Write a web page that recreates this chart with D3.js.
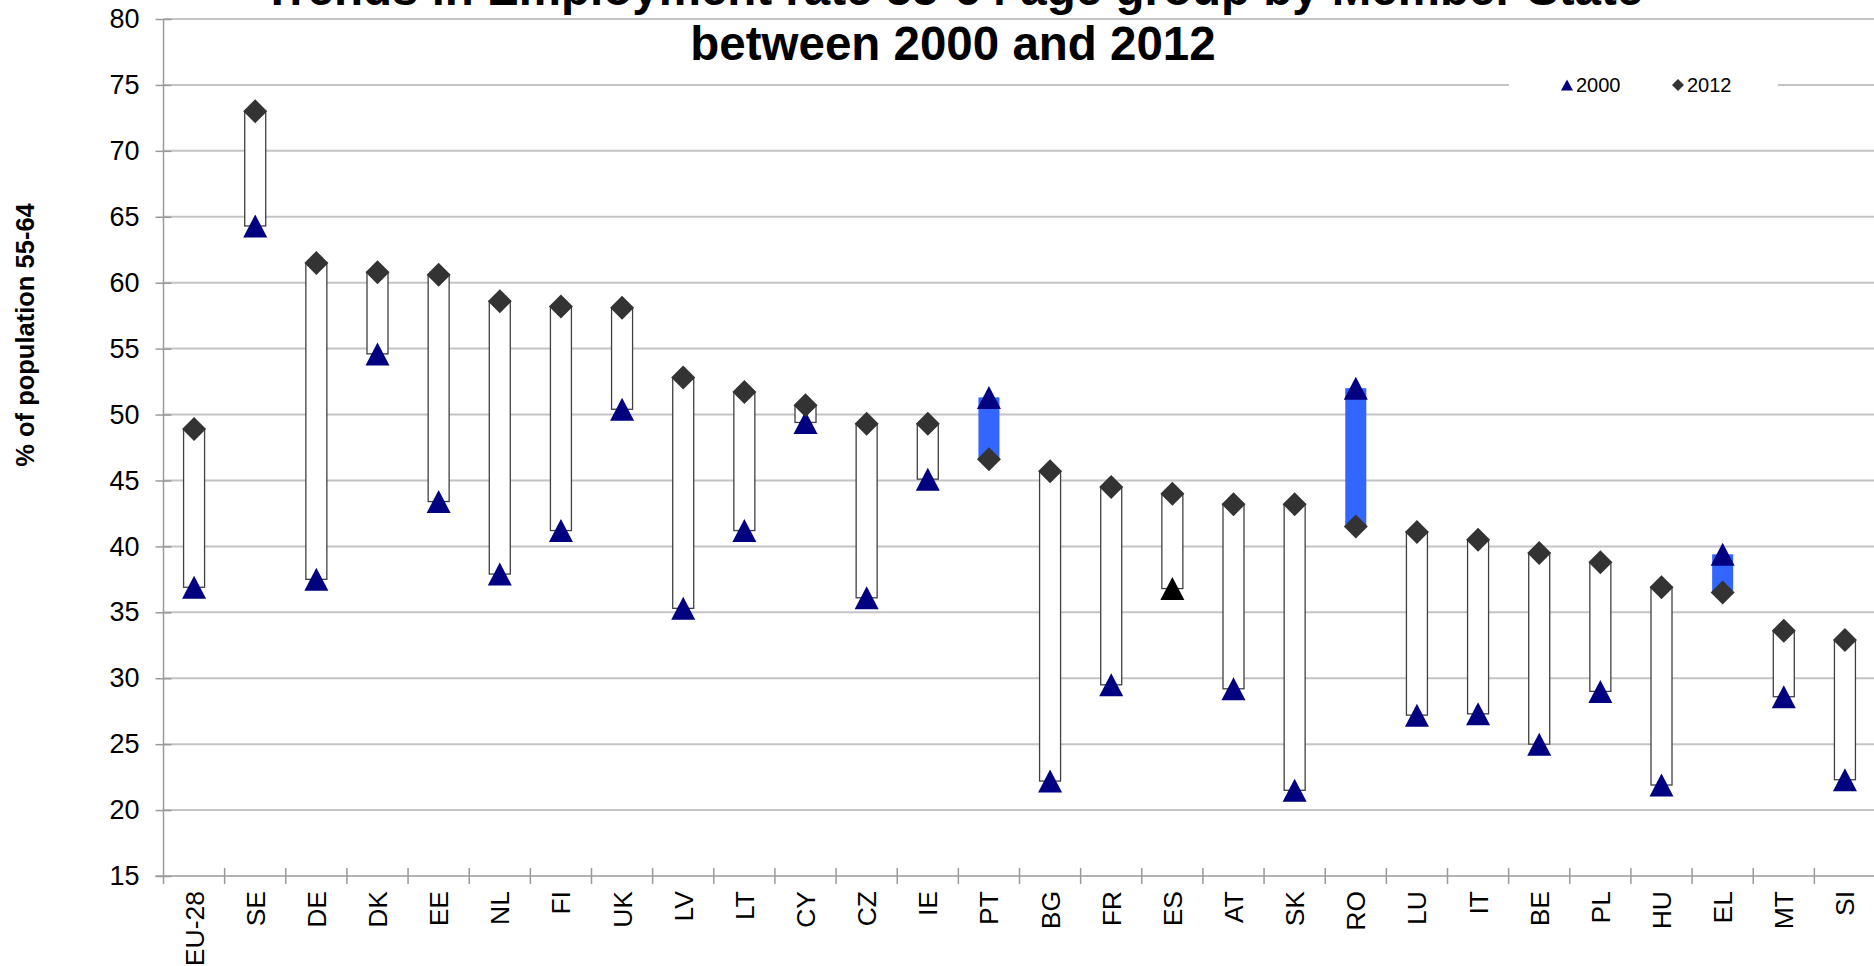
<!DOCTYPE html>
<html>
<head>
<meta charset="utf-8">
<script src="https://cdn.jsdelivr.net/npm/d3@7"></script>
<style>
  html, body { margin: 0; padding: 0; background: #fff; }
  svg { display: block; font-family: "Liberation Sans", Arial, sans-serif; }
</style>
</head>
<body>
<svg id="chart" width="1874" height="966"></svg>
<script>
// Employment rate of older workers (55-64), by Member State
const countries = ["EU-28","SE","DE","DK","EE","NL","FI","UK","LV","LT","CY","CZ","IE","PT",
                   "BG","FR","ES","AT","SK","RO","LU","IT","BE","PL","HU","EL","MT","SI"];
const rate2000 = [36.9,64.3,37.5,54.6,43.4,37.9,41.2,50.4,35.3,41.2,49.4,36.1,45.1,51.3,
                  22.2,29.5,36.8,29.2,21.5,52.0,27.2,27.3,25.0,29.0,21.9,39.4,28.6,22.3];
const rate2012 = [48.9,73.0,61.5,60.8,60.6,58.6,58.2,58.1,52.8,51.7,50.7,49.3,49.3,46.6,
                  45.7,44.5,44.0,43.2,43.2,41.5,41.1,40.5,39.5,38.8,36.9,36.5,33.6,32.9];
const yTicks = [15,20,25,30,35,40,45,50,55,60,65,70,75,80];
const seriesNames = ["2000","2012"];
const titleLines = ["Trends in Employment rate 55-64 age group by Member State",
                    "between 2000 and 2012"];
const yTitle = "% of population 55-64";
// 2000 marker drawn in black for this country
const blackMarker2000 = "ES";

(function () {
const rows = countries.map((c, i) => ({ c, v2000: rate2000[i], v2012: rate2012[i] }));

const svg = d3.select("#chart");
const plotLeft = 163.5, plotRight = 1875.5, plotTop = 19, plotBottom = 876;

const x = d3.scaleBand().domain(countries).range([plotLeft, plotRight]).padding(0);
const y = d3.scaleLinear().domain([15, 80]).range([plotBottom, plotTop]);

const gridColor = "#c4c4c4", axisColor = "#9a9a9a";

// horizontal gridlines
svg.append("g").selectAll("line").data(yTicks.filter(t => t > 15)).join("line")
  .attr("x1", plotLeft).attr("x2", 1874)
  .attr("y1", d => y(d)).attr("y2", d => y(d))
  .attr("stroke", gridColor).attr("stroke-width", 2);

// y axis
const yAxis = svg.append("g").attr("transform", `translate(${plotLeft},0)`)
  .call(d3.axisLeft(y).tickValues(yTicks).tickSize(8).tickPadding(16));
yAxis.select(".domain").attr("stroke", axisColor).attr("stroke-width", 1.5)
  .attr("d", `M0,${y(80)}V${plotBottom + 8}`);
yAxis.selectAll(".tick line").attr("stroke", axisColor).attr("stroke-width", 1.5)
  .attr("x1", 8);
yAxis.selectAll(".tick text").attr("font-size", 27).attr("fill", "#000")
  .attr("font-family", "Liberation Sans, Arial, sans-serif");

// x axis line and category separators
svg.append("line").attr("x1", plotLeft - 8).attr("x2", 1874)
  .attr("y1", plotBottom).attr("y2", plotBottom)
  .attr("stroke", axisColor).attr("stroke-width", 1.5);
const bounds = countries.map(c => x(c)).concat([x(countries[countries.length - 1]) + x.bandwidth()]);
svg.append("g").selectAll("line").data(bounds.slice(1)).join("line")
  .attr("x1", d => d).attr("x2", d => d)
  .attr("y1", plotBottom - 8).attr("y2", plotBottom + 8)
  .attr("stroke", axisColor).attr("stroke-width", 1.5);

// category labels, rotated
svg.append("g").selectAll("text").data(countries).join("text")
  .attr("transform", d => `translate(${x(d) + x.bandwidth() / 2},${plotBottom + 15}) rotate(-90)`)
  .attr("text-anchor", "end").attr("dy", "0.36em")
  .attr("font-size", 26.5).attr("fill", "#000")
  .text(d => d);

// up/down bars between the two years
const barW = 21;
svg.append("g").selectAll("rect").data(rows).join("rect")
  .attr("x", d => x(d.c) + x.bandwidth() / 2 - barW / 2)
  .attr("width", barW)
  .attr("y", d => y(Math.max(d.v2000, d.v2012)))
  .attr("height", d => Math.abs(y(d.v2000) - y(d.v2012)))
  .attr("fill", d => d.v2012 >= d.v2000 ? "#ffffff" : "#3366ff")
  .attr("stroke", d => d.v2012 >= d.v2000 ? "#404040" : "none")
  .attr("stroke-width", 1.3);

// markers
const triPath = (w, h) => `M0,${-h / 2}L${w / 2},${h / 2}L${-w / 2},${h / 2}Z`;
const diaPath = (w, h) => `M0,${-h / 2}L${w / 2},0L0,${h / 2}L${-w / 2},0Z`;

svg.append("g").selectAll("path").data(rows).join("path")
  .attr("transform", d => `translate(${x(d.c) + x.bandwidth() / 2},${y(d.v2000)})`)
  .attr("d", triPath(24, 23))
  .attr("fill", d => d.c === blackMarker2000 ? "#000000" : "#000080");

svg.append("g").selectAll("path").data(rows).join("path")
  .attr("transform", d => `translate(${x(d.c) + x.bandwidth() / 2},${y(d.v2012)})`)
  .attr("d", diaPath(24, 24))
  .attr("fill", "#333333");

// legend
const lg = svg.append("g");
lg.append("rect").attr("x", 1509).attr("y", y(75) - 14).attr("width", 269).attr("height", 28)
  .attr("fill", "#fff");
lg.append("path").attr("transform", `translate(1567,${y(75)})`).attr("d", triPath(12, 11))
  .attr("fill", "#000080");
lg.append("text").attr("x", 1576).attr("y", y(75)).attr("dy", "0.36em")
  .attr("font-size", 20).attr("fill", "#000").text(seriesNames[0]);
lg.append("path").attr("transform", `translate(1678,${y(75)})`).attr("d", diaPath(12, 12))
  .attr("fill", "#333333");
lg.append("text").attr("x", 1687).attr("y", y(75)).attr("dy", "0.36em")
  .attr("font-size", 20).attr("fill", "#000").text(seriesNames[1]);

// title
svg.append("g").selectAll("text").data(titleLines).join("text")
  .attr("x", 953).attr("y", (d, i) => 5 + i * 55)
  .attr("text-anchor", "middle").attr("font-weight", "bold").attr("font-size", 47.5)
  .attr("fill", "#000").text(d => d);

// y axis title
svg.append("text")
  .attr("transform", "translate(25,335) rotate(-90)")
  .attr("text-anchor", "middle").attr("dy", "0.36em")
  .attr("font-weight", "bold").attr("font-size", 25.5).attr("fill", "#000")
  .text(yTitle);
})();
</script>
</body>
</html>
